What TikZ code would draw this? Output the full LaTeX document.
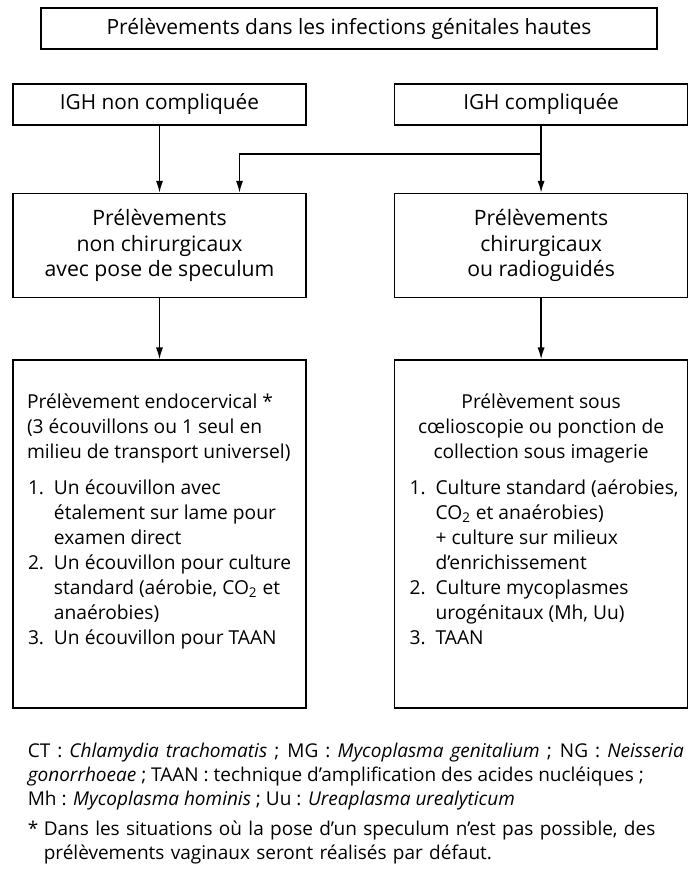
\documentclass[tikz,border=0pt]{standalone}
\usepackage{fontspec}
\setmainfont{Open Sans}
\usetikzlibrary{arrows.meta,positioning,calc}

\newcommand\numit[1]{\makebox[13pt][l]{#1}}
\newcommand\contit{\hspace*{13pt}}

\begin{document}
\begin{tikzpicture}[>={Latex[length=6pt,width=3.6pt]}, line width=0.8pt,
  font=\fontsize{9.6}{12.5}\selectfont,
  titlebox/.style={draw, minimum width=308pt, minimum height=20.5pt, inner sep=0pt, font=\fontsize{10.5}{12.5}\selectfont},
  headbox/.style={draw, minimum width=146.5pt, minimum height=20.5pt, inner sep=0pt, font=\fontsize{10.4}{12.5}\selectfont},
  midbox/.style={draw, align=center, minimum width=146.5pt, minimum height=52pt, inner sep=0pt, font=\fontsize{10.6}{12.7}\selectfont},
  listbox/.style={draw, minimum width=146.5pt, minimum height=174pt, inner sep=0pt},
  listtext/.style={inner sep=0pt, align=left},
  note/.style={inner sep=0pt, align=justify, text width=328pt, font=\fontsize{9.5}{12}\selectfont},
  node distance=33.5pt and 43.5pt]
\useasboundingbox (0,0) rectangle (349.5pt,-437pt);
\node[titlebox] (title) at (174.5pt,-14.25pt) {Prélèvements dans les infections génitales hautes};
\node[headbox] (nonc) at (79.75pt,-52.25pt) {IGH non compliquée};
\node[headbox, right=of nonc] (comp) {IGH compliquée};
\node[midbox, below=of nonc] (nonchir) {Prélèvements\\non chirurgicaux\\avec pose de speculum};
\node[midbox, below=of comp] (chir) {Prélèvements\\chirurgicaux\\ou radioguidés};
\node[listbox, below=30.5pt of nonchir] (endo) {};
\node[listbox, below=30.5pt of chir] (coelio) {};
% contenu des deux colonnes
\node[listtext, below right=17pt and 7pt of endo.north west] (endohead)
  {Prélèvement endocervical *\\(3 écouvillons ou 1 seul en\\milieu de transport universel)};
\node[listtext, below right=60pt and 7.5pt of endo.north west] (endolist)
  {\numit{1.}Un écouvillon avec\\\contit étalement sur lame pour\\\contit examen direct\\
   \numit{2.}Un écouvillon pour culture\\\contit standard (aérobie, CO\textsubscript{2} et\\\contit anaérobies)\\
   \numit{3.}Un écouvillon pour TAAN};
\node[listtext, align=center, below=17pt of coelio.north] (coeliohead)
  {Prélèvement sous\\cœlioscopie ou ponction de\\collection sous imagerie};
\node[listtext, below right=60pt and 7.5pt of coelio.north west] (coeliolist)
  {\numit{1.}Culture standard (aérobies,\\\contit CO\textsubscript{2} et anaérobies)\\\contit + culture sur milieux\\\contit d'enrichissement\\
   \numit{2.}Culture mycoplasmes\\\contit urogénitaux (Mh, Uu)\\
   \numit{3.}TAAN};
% fleches
\coordinate[below=14pt of comp.south] (split);
\coordinate[right=40pt of nonchir.north] (entry);
\draw[->] (nonc) -- (nonchir);
\draw[->] (comp) -- (chir);
\draw[->] (split) -| (entry);
\draw[->] (nonchir) -- (endo);
\draw[->] (chir) -- (coelio);
% legende
\node[note, anchor=north west] (legend) at (13.5pt,-371pt)
  {CT : \textit{Chlamydia trachomatis} ; MG : \textit{Mycoplasma genitalium} ; NG : \textit{Neisseria}\linebreak
   \textit{gonorrhoeae} ; TAAN : technique d'amplification des acides nucléiques ;\newline
   Mh : \textit{Mycoplasma hominis} ; Uu : \textit{Ureaplasma urealyticum}\par};
\node[note, align=left, below=5pt of legend.south west, anchor=north west] (footnote)
  {\makebox[8pt][l]{*}Dans les situations où la pose d'un speculum n'est pas possible, des\\
   \hspace*{8pt}prélèvements vaginaux seront réalisés par défaut.};
\end{tikzpicture}
\end{document}
